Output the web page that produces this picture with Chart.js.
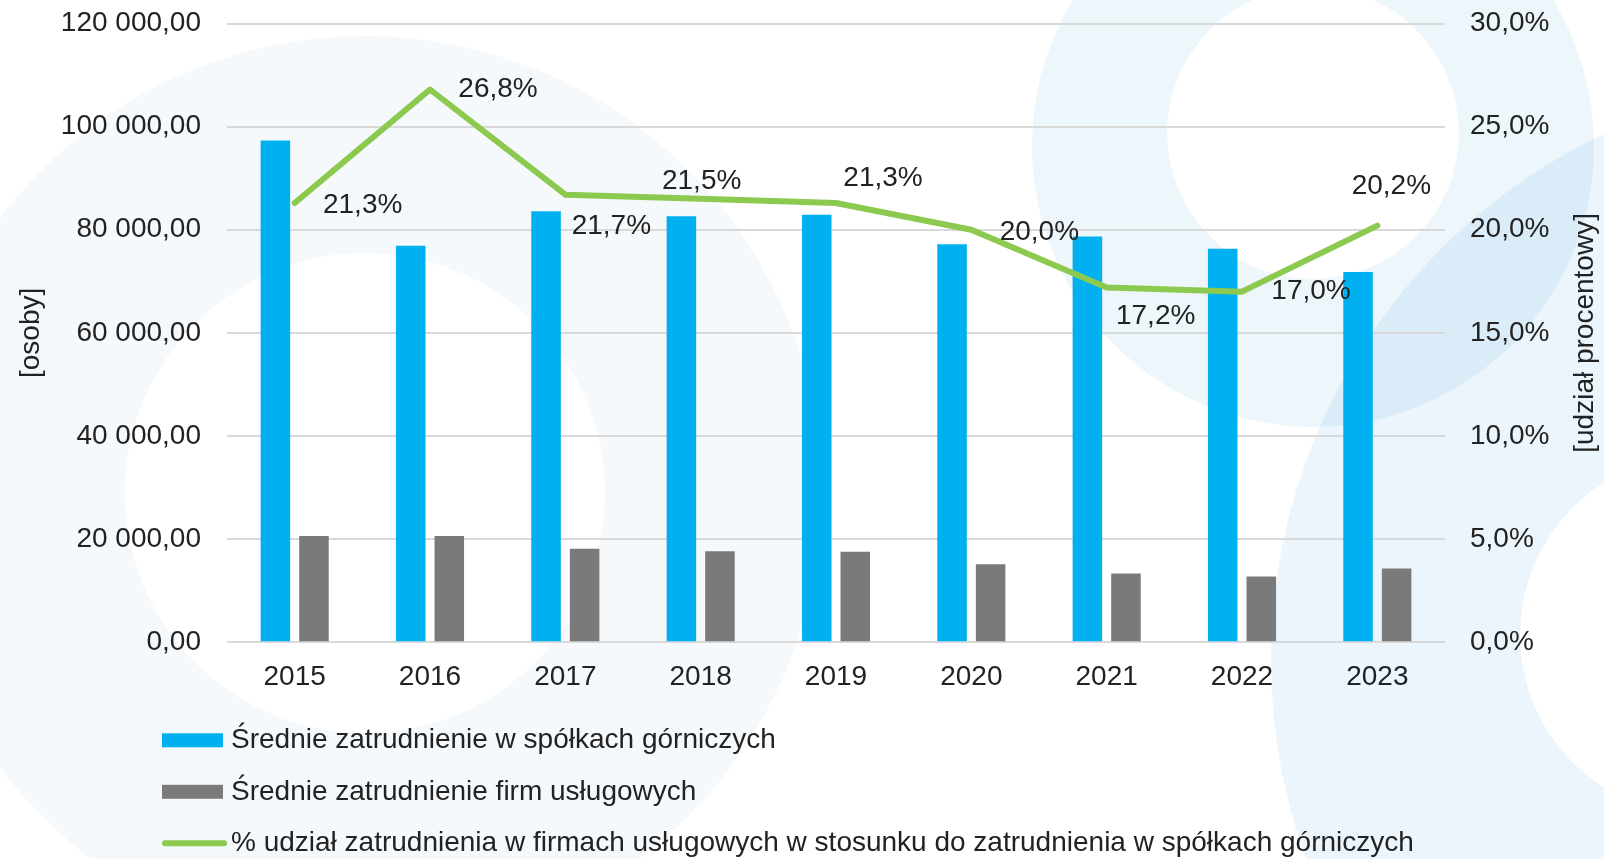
<!DOCTYPE html>
<html>
<head>
<meta charset="utf-8">
<script src="https://cdn.jsdelivr.net/npm/chart.js@4.4.1/dist/chart.umd.min.js"></script>
<style>
html,body{margin:0;padding:0;background:#fff;overflow:hidden}
#c{display:block}
</style>
</head>
<body>
<canvas id="c" width="1604" height="859"></canvas>
<script>
// ---- data ----
const years = ['2015', '2016', '2017', '2018', '2019', '2020', '2021', '2022', '2023'];
const miningEmployment = [97300, 76900, 83600, 82600, 82900, 77200, 78700, 76300, 71800];
const serviceEmployment = [20600, 20600, 18150, 17650, 17550, 15150, 13350, 12750, 14300];
const serviceSharePct = [21.3, 26.8, 21.7, 21.5, 21.3, 20.0, 17.2, 17.0, 20.2];

const seriesNames = [
  'Średnie zatrudnienie w spółkach górniczych',
  'Średnie zatrudnienie firm usługowych',
  '% udział zatrudnienia w firmach usługowych w stosunku do zatrudnienia w spółkach górniczych'
];
const leftAxisTitle = '[osoby]';
const rightAxisTitle = '[udział procentowy]';
const leftAxisMax = 120000, leftAxisStep = 20000;
const rightAxisMax = 30, rightAxisStep = 5;

// ---- style ----
const BLUE = '#00b0f0', GRAY = '#7a7a7a', GREEN = '#8cc94f', TEXT = '#222222';
const FONT = "'Liberation Sans', Arial, sans-serif";
// label offsets (dx, dy) relative to each line point
const labelOffsets = [[68, 2], [68, 0], [46, 32], [1, -18], [47, -25], [68, 3], [49, 29], [69, 0], [14, -39]];

function fmtThousands(v) {
  const s = Math.round(v).toString().replace(/\B(?=(\d{3})+(?!\d))/g, ' ');
  return s + ',00';
}
function fmtPct(v) { return v.toFixed(1).replace('.', ',') + '%'; }

const bgRings = {
  id: 'bgRings',
  beforeDraw(chart) {
    const c = chart.ctx;
    c.save();
    c.fillStyle = '#ffffff';
    c.fillRect(0, 0, chart.width, chart.height);
    const rings = [
      {cx: 365, cy: 493, R: 457, ix: 365, iy: 493, r: 240, color: 'rgba(0,110,190,0.04)'},
      {cx: 1313, cy: 146, R: 281, ix: 1313, iy: 133, r: 146, color: 'rgba(0,125,200,0.07)'},
      {cx: 1853, cy: 660, R: 582, ix: 1700, iy: 635, r: 180, color: 'rgba(0,125,200,0.08)'}
    ];
    rings.forEach(r => {
      c.beginPath();
      c.arc(r.cx, r.cy, r.R, 0, Math.PI * 2);
      c.moveTo(r.ix + r.r, r.iy);
      c.arc(r.ix, r.iy, r.r, 0, Math.PI * 2);
      c.fillStyle = r.color;
      c.fill('evenodd');
    });
    c.restore();
  }
};

const pointLabels = {
  id: 'pointLabels',
  afterDatasetsDraw(chart) {
    const c = chart.ctx;
    const idx = chart.data.datasets.findIndex(d => d.type === 'line');
    const meta = chart.getDatasetMeta(idx);
    c.save();
    c.font = '28px ' + FONT;
    c.fillStyle = TEXT;
    c.textAlign = 'center';
    c.textBaseline = 'middle';
    meta.data.forEach((el, i) => {
      const o = labelOffsets[i];
      c.fillText(fmtPct(chart.data.datasets[idx].data[i]), el.x + o[0], el.y + o[1]);
    });
    c.restore();
  }
};

const extras = {
  id: 'extras',
  afterDraw(chart) {
    const c = chart.ctx;
    const ca = chart.chartArea;
    c.save();
    c.font = '28px ' + FONT;
    c.fillStyle = TEXT;
    // right axis title, reading bottom to top
    c.translate(chart.width - 19, (ca.top + ca.bottom) / 2);
    c.rotate(-Math.PI / 2);
    c.textAlign = 'center';
    c.textBaseline = 'middle';
    c.fillText(rightAxisTitle, 0, 0);
    c.restore();

    // legend
    c.save();
    c.font = '28px ' + FONT;
    c.fillStyle = TEXT;
    c.textAlign = 'left';
    c.textBaseline = 'middle';
    const ds = chart.data.datasets;
    const x0 = 162, tx = 231, y0 = ca.bottom + 98, gap = 51.5;
    ds.forEach((d, i) => {
      const y = y0 + i * gap;
      if (d.type === 'line') {
        c.strokeStyle = d.borderColor;
        c.lineWidth = 6;
        c.lineCap = 'round';
        c.beginPath();
        c.moveTo(x0 + 3, y);
        c.lineTo(x0 + 62, y);
        c.stroke();
      } else {
        c.fillStyle = d.backgroundColor;
        c.fillRect(x0, y - 7, 61, 14);
      }
      c.fillStyle = TEXT;
      c.fillText(d.label, tx, y);
    });
    c.restore();
  }
};

Chart.defaults.font.family = FONT;
Chart.defaults.font.size = 28;
Chart.defaults.color = TEXT;

new Chart(document.getElementById('c'), {
  type: 'bar',
  data: {
    labels: years,
    datasets: [
      {label: seriesNames[0], data: miningEmployment, backgroundColor: BLUE, yAxisID: 'y', order: 1},
      {label: seriesNames[1], data: serviceEmployment, backgroundColor: GRAY, yAxisID: 'y', order: 1},
      {type: 'line', label: seriesNames[2], data: serviceSharePct, yAxisID: 'y1', order: 0,
       borderColor: GREEN, backgroundColor: GREEN, borderWidth: 6, pointRadius: 0, tension: 0,
       borderCapStyle: 'round', borderJoinStyle: 'round', fill: false}
    ]
  },
  options: {
    responsive: false,
    animation: false,
    layout: {padding: {top: 23.5, left: 0, right: 0, bottom: 0}},
    plugins: {legend: {display: false}, tooltip: {enabled: false}},
    datasets: {bar: {categoryPercentage: 0.57, barPercentage: 0.766}},
    scales: {
      x: {
        grid: {display: false, drawTicks: false},
        border: {display: false},
        ticks: {padding: 18, maxRotation: 0, autoSkip: false},
        afterFit(s) { s.height = 216.7; s.paddingLeft = 0; s.paddingRight = 0; }
      },
      y: {
        position: 'left', min: 0, max: leftAxisMax,
        ticks: {stepSize: leftAxisStep, padding: 26, callback: v => fmtThousands(v)},
        grid: {color: '#d9d9d9', lineWidth: 2, drawTicks: false},
        border: {display: false},
        title: {display: true, text: leftAxisTitle, padding: {top: 14, bottom: 0}},
        afterFit(s) { s.width = 227; s.paddingTop = 0; s.paddingBottom = 0; }
      },
      y1: {
        position: 'right', min: 0, max: rightAxisMax,
        ticks: {stepSize: rightAxisStep, padding: 25, callback: v => fmtPct(v)},
        grid: {display: false, drawTicks: false},
        border: {display: false},
        afterFit(s) { s.width = 159; s.paddingTop = 0; s.paddingBottom = 0; }
      }
    }
  },
  plugins: [bgRings, pointLabels, extras]
});
</script>
</body>
</html>
